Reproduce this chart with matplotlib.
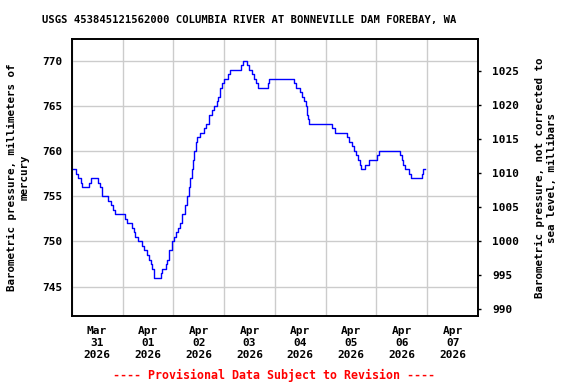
import matplotlib
matplotlib.use("Agg")
import matplotlib.pyplot as plt
import matplotlib.dates as mdates
import pandas as pd

# hours after 2026-03-31 00:00 where the reading changes, and the new reading (mm Hg)
change_hours = [0, 1.9, 3.0, 4.5, 5.0, 8.1, 8.9, 12.5, 13.2, 14.1, 17.3, 18.4,
                19.4, 20.4, 25.1, 25.9, 28.5, 29.3, 30.1, 31.2, 33.3, 34.0,
                35.4, 36.6, 37.6, 38.1, 39.1, 42.0, 42.8, 44.5, 45.2, 46.1,
                47.2, 48.1, 49.4, 50.1, 51.0, 52.2, 53.5, 54.4, 55.2, 56.0,
                56.6, 57.1, 57.7, 58.7, 59.4, 60.4, 62.6, 63.5, 64.9, 66.4,
                67.3, 68.7, 69.3, 70.1, 71.1, 72.0, 74.0, 75.0, 80.2, 81.1,
                82.8, 83.8, 85.0, 86.1, 87.2, 88.2, 92.6, 93.3, 105.1, 106.2,
                107.8, 108.7, 109.8, 110.6, 111.2, 111.7, 112.1, 123.0, 124.2,
                130.0, 130.8, 132.2, 133.2, 134.3, 135.2, 136.1, 136.9, 138.8,
                140.4, 144.1, 145.1, 155.0, 155.9, 156.6, 157.3, 159.2, 160.2,
                165.3, 166.0, 166.8]
pressure_mmhg = [758.0, 757.5, 757.0, 756.5, 756.0, 756.5, 757.0, 756.5, 756.0,
                 755.0, 754.5, 754.0, 753.5, 753.0, 752.5, 752.0, 751.5, 751.0,
                 750.5, 750.0, 749.5, 749.0, 748.5, 748.0, 747.5, 747.0, 746.0,
                 746.5, 747.0, 747.5, 748.0, 749.0, 750.0, 750.5, 751.0, 751.5,
                 752.0, 753.0, 754.0, 755.0, 756.0, 757.0, 758.0, 759.0, 760.0,
                 761.0, 761.5, 762.0, 762.5, 763.0, 764.0, 764.5, 765.0, 765.5,
                 766.0, 767.0, 767.5, 768.0, 768.5, 769.0, 769.5, 770.0, 769.5,
                 769.0, 768.5, 768.0, 767.5, 767.0, 767.5, 768.0, 767.5, 767.0,
                 766.5, 766.0, 765.5, 765.0, 764.0, 763.5, 763.0, 762.5, 762.0,
                 761.5, 761.0, 760.5, 760.0, 759.5, 759.0, 758.5, 758.0, 758.5,
                 759.0, 759.5, 760.0, 759.5, 759.0, 758.5, 758.0, 757.5, 757.0,
                 757.5, 758.0, 758.0]

start = pd.Timestamp("2026-03-31")
times = start + pd.to_timedelta(change_hours, unit="h")

mm_ticks = [745, 750, 755, 760, 765, 770]
mb_ticks = [990, 995, 1000, 1005, 1010, 1015, 1020, 1025]
MB_PER_MMHG = 1.33322

font = "DejaVu Sans Mono"
plt.rcParams["font.family"] = font
plt.rcParams["font.weight"] = "bold"

fig = plt.figure(figsize=(5.76, 3.84), dpi=100)
ax = fig.add_axes([0.1245, 0.177, 0.7055, 0.7207])

ax.plot(times, pressure_mmhg, color="#0000ff", lw=1.0, drawstyle="steps-post")

ax.set_xlim(start, start + pd.Timedelta(days=8))
ax.set_ylim(741.75, 772.35)
ax.set_yticks(mm_ticks)
ax.tick_params(axis="y", length=0, labelsize=8, pad=6.5)

# labels at noon, grid at midnight
ax.xaxis.set_major_locator(mdates.HourLocator(byhour=[12]))
ax.xaxis.set_major_formatter(mdates.DateFormatter("%b\n%d\n%Y"))
ax.xaxis.set_minor_locator(mdates.DayLocator())
ax.tick_params(axis="x", which="major", length=0, labelsize=8, pad=7)
ax.tick_params(axis="x", which="minor", length=0)
for lab in ax.get_xticklabels():
    lab.set_linespacing(1.25)
ax.grid(True, which="minor", axis="x", color="#cccccc", lw=1)
ax.grid(True, which="major", axis="y", color="#cccccc", lw=1)
ax.set_axisbelow(True)
for s in ax.spines.values():
    s.set_linewidth(1.2)

ax2 = ax.twinx()
ax2.set_ylim(741.75 * MB_PER_MMHG, 772.35 * MB_PER_MMHG)
ax2.set_yticks(mb_ticks)
ax2.tick_params(axis="y", length=2.2, width=1, labelsize=8, pad=8)
for s in ax2.spines.values():
    s.set_linewidth(1.2)

ax.set_ylabel("Barometric pressure, millimeters of\nmercury", fontsize=7.8,
              fontweight="bold", labelpad=9, linespacing=1.35)
ax2.set_ylabel("Barometric pressure, not corrected to\nsea level, millibars",
               fontsize=7.8, fontweight="bold", labelpad=11, linespacing=1.3)

fig.text(0.432, 0.948, "USGS 453845121562000 COLUMBIA RIVER AT BONNEVILLE DAM FOREBAY, WA",
         ha="center", va="center", fontsize=7.6, fontweight="bold")
fig.text(0.476, 0.023, "---- Provisional Data Subject to Revision ----",
         ha="center", va="center", fontsize=8.4, fontweight="bold", color="red")

fig.savefig("out.png", dpi=100)
